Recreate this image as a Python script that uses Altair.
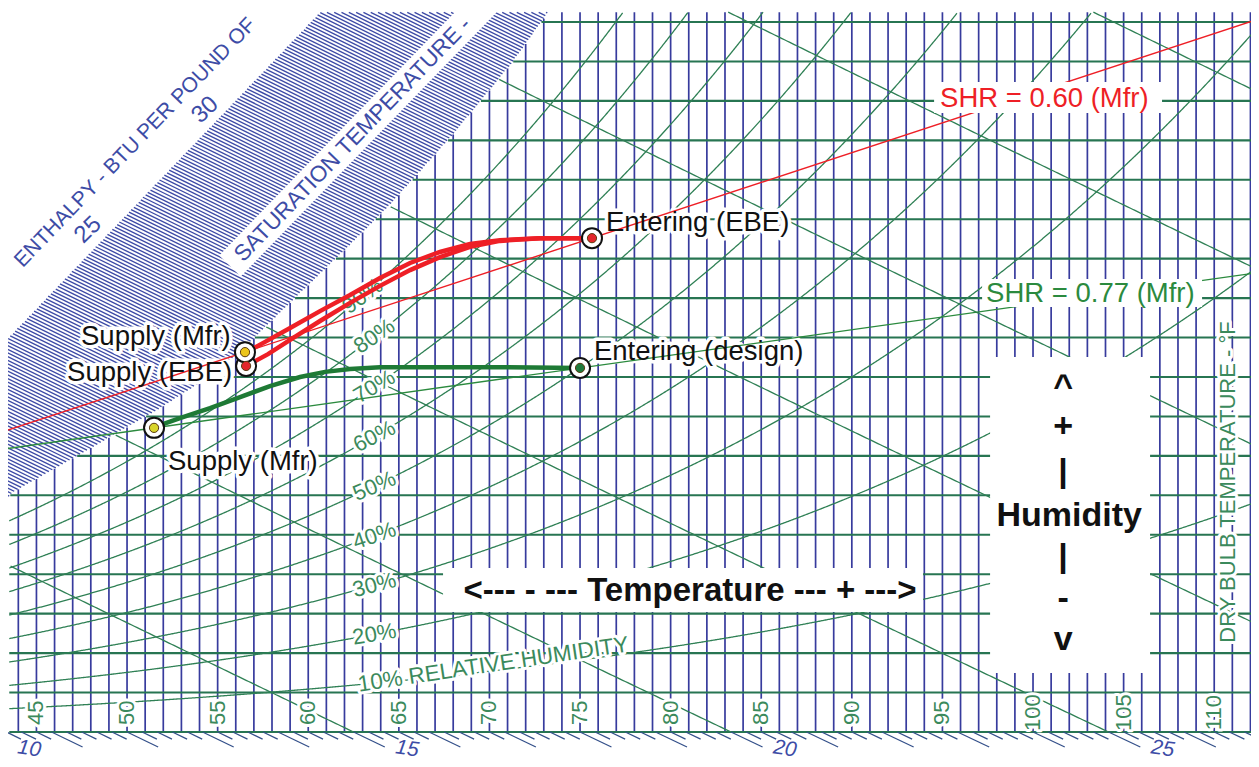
import numpy as np
import pandas as pd
import altair as alt

# ------------------------------------------------------------------
# Values
# T = dry-bulb temperature (°F), W = humidity ratio (lb water / lb dry air)
# ------------------------------------------------------------------
dry_bulb_grid = list(range(44, 113))
dry_bulb_labels = [45, 50, 55, 60, 65, 70, 75, 80, 85, 90, 95, 100, 105, 110]
humidity_grid = [0.000, 0.001, 0.002, 0.003, 0.004, 0.005, 0.006, 0.007, 0.008, 0.009,
                 0.010, 0.011, 0.012, 0.013, 0.014, 0.015, 0.016, 0.017, 0.018]
rh_levels = [10, 20, 30, 40, 50, 60, 70, 80, 90]
enthalpy_major = [15, 20, 25, 30, 35, 40, 45]
enthalpy_scale_labels = [10, 15, 20, 25]

# lower-right edge of the hatched saturation band
sat_T = [42.99, 43.65, 48.51, 51.66, 54.03, 56.24, 59.16, 62.25, 64.51, 67.99, 71.25, 73.23, 73.79]
sat_W = [0.00563, 0.00606, 0.00733, 0.00816, 0.00885, 0.00963, 0.01095, 0.01232, 0.01336,
         0.01514, 0.01696, 0.01823, 0.01856]
# upper-left edge of the hatched band (enthalpy scale)
edge_T = [43.54, 60.65]
edge_W = [0.01004, 0.01825]

# state points
pt_name = ["Entering (EBE)", "Entering (design)", "Supply (EBE)", "Supply (Mfr)", "Supply (Mfr) "]
pt_T = [75.66, 75.00, 56.57, 56.51, 51.49]
pt_W = [0.01252, 0.00923, 0.00928, 0.00963, 0.00771]
pt_fill = ["#e3262b", "#1f7a3c", "#e3262b", "#ecc51a", "#d9d52a"]

# process paths (coil curves)
green_path_T = [51.49, 51.71, 52.92, 54.58, 56.24, 57.89, 59.55, 60.93, 62.31, 63.96, 66.17, 70.58, 75.00]
green_path_W = [0.00771, 0.00776, 0.00796, 0.00821, 0.00849, 0.00877, 0.00900, 0.00913, 0.00920,
                0.00925, 0.00925, 0.00925, 0.00923]
red_path_a_T = [56.51, 56.79, 57.62, 59.00, 60.65, 62.31, 63.96, 65.62, 67.27, 68.93, 70.58, 72.79, 75.66]
red_path_a_W = [0.00963, 0.00968, 0.00989, 0.01024, 0.01067, 0.01108, 0.01151, 0.01189, 0.01217,
                0.01237, 0.01247, 0.01252, 0.01252]
red_path_b_T = [56.57, 56.90, 57.78, 59.00, 60.65, 62.31, 63.96, 65.62, 67.27, 68.93, 70.58, 72.79, 75.66]
red_path_b_W = [0.00928, 0.00936, 0.00958, 0.00994, 0.01042, 0.01088, 0.01131, 0.01171, 0.01204,
                0.01230, 0.01245, 0.01252, 0.01252]

# sensible heat ratio lines
shr_red_T = [42.99, 112.47]
shr_red_W = [0.00759, 0.01808]
shr_green_T = [42.99, 112.47]
shr_green_W = [0.00716, 0.01165]

# ------------------------------------------------------------------
# frame
# ------------------------------------------------------------------
T_MIN, T_MAX = 43.43, 112.03
W_MIN, W_MAX = -0.000685, 0.018355
T_LEFT, W_TOP = 43.5, 0.01825
PX_PER_T = 18.12
PX_PER_W = 39444.0

XS = alt.Scale(domain=[T_MIN, T_MAX], nice=False, zero=False)
YS = alt.Scale(domain=[W_MIN, W_MAX], nice=False, zero=False)
FONT = "Liberation Sans"

BLUE = "#373b9d"
HATCH = "#3d4aa6"
GREEN = "#277552"
GREEN_L = "#2f8055"
GREEN_TXT = "#3b8a5c"
RED = "#ee1f26"
TXT_BLUE = "#3d4ca6"

# ------------------------------------------------------------------
# psychrometric relations (sea level)
# ------------------------------------------------------------------
P_ATM = 14.696


def p_ws(tf):
    t = np.asarray(tf, float) + 459.67
    return np.exp(-1.0440397e4 / t - 1.1294650e1 - 2.7022355e-2 * t + 1.2890360e-5 * t ** 2
                  - 2.4780681e-9 * t ** 3 + 6.5459673 * np.log(t))


def w_at(tf, rh):
    pv = rh * p_ws(tf)
    return 0.622 * pv / (P_ATM - pv)


def t_at_h(h, w):
    return (h - 1061.0 * np.asarray(w, float)) / (0.24 + 0.444 * np.asarray(w, float))


def t_sat(w):
    return np.interp(w, sat_W, sat_T)


def w_sat(t):
    return np.interp(t, sat_T, sat_W)


def w_edge(t):
    return edge_W[0] + (np.asarray(t) - edge_T[0]) * (edge_W[1] - edge_W[0]) / (edge_T[1] - edge_T[0])


X = alt.X("T:Q", scale=XS, axis=None)
Y = alt.Y("W:Q", scale=YS, axis=None)


def rules(df, color, width, cap="butt"):
    return alt.Chart(df).mark_rule(color=color, strokeWidth=width, clip=True, strokeCap=cap).encode(
        x=X, x2="T2:Q", y=Y, y2="W2:Q")


def boxes(df, color="white"):
    return alt.Chart(df).mark_rect(color=color).encode(x=X, x2="T2:Q", y=Y, y2="W2:Q")


def lines(df, color, width):
    return alt.Chart(df).mark_line(color=color, strokeWidth=width, clip=True).encode(
        x=X, y=Y, detail="id:N", order="o:Q")


def texts(df, size, color, halo=0, weight="normal", style="normal", align="left",
          baseline="alphabetic", angle=None, angle_field=False):
    enc = dict(x=X, y=Y, text="label:N")
    props = dict(fontSize=size, font=FONT, fontWeight=weight, fontStyle=style,
                 align=align, baseline=baseline)
    if angle_field:
        enc["angle"] = alt.Angle("ang:Q", scale=None)
    elif angle is not None:
        props["angle"] = angle
    out = []
    if halo:
        out.append(alt.Chart(df).mark_text(color="white", stroke="white", strokeWidth=halo,
                                           strokeJoin="round", **props).encode(**enc))
    out.append(alt.Chart(df).mark_text(color=color, **props).encode(**enc))
    return out


# ------------------------------------------------------------------
# grid construction
# ------------------------------------------------------------------
# hatched band: fine enthalpy lines between enthalpy-scale edge and saturation edge
hatch = []
ws = np.linspace(0.003, 0.0195, 2000)
for k in range(100, 520):
    h = k / 10.0
    ts = t_at_h(h, ws)
    inside = (ws < w_edge(ts)) & (ts < t_sat(ws)) & (ws <= W_TOP)
    if inside.any():
        idx = np.where(inside)[0]
        hatch.append({"T": ts[idx[0]], "W": ws[idx[0]], "T2": ts[idx[-1]], "W2": ws[idx[-1]]})
hatch_df = pd.DataFrame(hatch)

vert_df = pd.DataFrame([{"T": t, "T2": t, "W": 0.0, "W2": float(min(W_TOP, w_sat(t)))}
                        for t in dry_bulb_grid])
horz_df = pd.DataFrame([{"T": float(max(T_LEFT, t_sat(w))), "T2": T_MAX + 1, "W": w, "W2": w}
                        for w in humidity_grid])

rh_rows = []
for rh in rh_levels:
    ts = np.arange(T_LEFT, T_MAX + 0.5, 0.05)
    wv = w_at(ts, rh / 100.0)
    keep = wv <= W_TOP
    for i, (t, w) in enumerate(zip(ts[keep], wv[keep])):
        rh_rows.append({"id": rh, "o": i, "T": t, "W": w})
rh_df = pd.DataFrame(rh_rows)

h_rows = []
for h in enthalpy_major:
    wv = np.linspace(0.0, W_TOP, 600)
    ts = t_at_h(h, wv)
    keep = (ts >= t_sat(wv)) & (ts >= T_LEFT)
    for i, (t, w) in enumerate(zip(ts[keep], wv[keep])):
        h_rows.append({"id": h, "o": i, "T": t, "W": w})
h_df = pd.DataFrame(h_rows)

tick_rows = []
for k in range(46, 140):
    h = k / 5.0
    w_end = -0.00038 if k % 5 == 0 else -0.00018
    tick_rows.append({"T": float(t_at_h(h, 0.0)), "W": 0.0, "T2": float(t_at_h(h, w_end)), "W2": w_end})
tick_df = pd.DataFrame(tick_rows)

W_SCALE_LBL = -0.00043
scale_lbl_df = pd.DataFrame({"label": [str(v) for v in enthalpy_scale_labels],
                             "T": [float(t_at_h(v, W_SCALE_LBL)) + 1.0 for v in enthalpy_scale_labels],
                             "W": [W_SCALE_LBL] * len(enthalpy_scale_labels)})

# RH labels placed on their own curves
rh_lbl = []
for rh in rh_levels:
    t0 = 62.75 if rh == 10 else (63.0 if rh == 90 else 63.65)
    w0 = float(w_at(t0, rh / 100.0))
    slope = float((w_at(t0 + 0.5, rh / 100.0) - w_at(t0 - 0.5, rh / 100.0))) * PX_PER_W / PX_PER_T
    ang = 351.5 if rh == 10 else 360 - np.degrees(np.arctan(slope)) * 0.9
    rh_lbl.append({"label": f"{rh}% RELATIVE HUMIDITY" if rh == 10 else f"{rh}%",
                   "T": t0, "W": w0, "ang": ang, "first": rh == 10})
rh_lbl_df = pd.DataFrame(rh_lbl)

db_lbl_df = pd.DataFrame({"label": [str(v) for v in dry_bulb_labels],
                          "T": dry_bulb_labels, "W": [0.00049] * len(dry_bulb_labels)})

# white annotation boxes
box_df = pd.DataFrame({"T": [97.63, 67.44], "T2": [106.46, 93.93],
                       "W": [0.001496, 0.003042], "W2": [0.009507, 0.004158]})
shr_box_df = pd.DataFrame({"T": [94.54, 97.19], "T2": [107.12, 109.33],
                           "W": [0.015693, 0.010775], "W2": [0.016479, 0.011485]})
strip_df = pd.DataFrame({"T": [55.68], "W": [0.011814], "T2": [70.70], "W2": [0.018938]})

path_rows = []
for pid, (tt, ww) in enumerate([(red_path_a_T, red_path_a_W), (red_path_b_T, red_path_b_W)]):
    for i, (t, w) in enumerate(zip(tt, ww)):
        path_rows.append({"id": pid, "o": i, "T": t, "W": w})
red_paths_df = pd.DataFrame(path_rows)
green_path_df = pd.DataFrame({"id": 0, "o": range(len(green_path_T)), "T": green_path_T, "W": green_path_W})

shr_red_df = pd.DataFrame({"id": 0, "o": [0, 1], "T": shr_red_T, "W": shr_red_W})
shr_green_df = pd.DataFrame({"id": 0, "o": [0, 1], "T": shr_green_T, "W": shr_green_W})

pts_df = pd.DataFrame({"name": pt_name, "T": pt_T, "W": pt_W, "fill": pt_fill})

point_lbl_df = pd.DataFrame({
    "label": ["Entering (EBE)", "Entering (design)", "Supply (Mfr)", "Supply (EBE)", "Supply (Mfr)"],
    "T": [76.43, 75.77, 47.46, 46.69, 52.26],
    "W": [0.012904, 0.009634, 0.010021, 0.009102, 0.006845]})
shr_red_lbl = pd.DataFrame({"label": ["SHR = 0.60 (Mfr)"], "T": [94.87], "W": [0.015845]})
shr_green_lbl = pd.DataFrame({"label": ["SHR = 0.77 (Mfr)"], "T": [97.41], "W": [0.010902]})

hum_df = pd.DataFrame({"label": ["^", "+", "|", "Humidity", "|", "-", "v"],
                       "T": [101.66, 101.66, 101.66, 102.0, 101.66, 101.66, 101.66],
                       "W": [0.008493, 0.007479, 0.006338, 0.005223, 0.004183, 0.003118, 0.002079]})
temp_df = pd.DataFrame({"label": ["<--- - --- Temperature --- + --->"], "T": [81.07], "W": [0.003321]})
dbt_title_df = pd.DataFrame({"label": ["DRY BULB TEMPERATURE - °F"], "T": [110.76], "W": [0.006338]})
enth_title_df = pd.DataFrame({"label": ["ENTHALPY - BTU PER POUND OF"], "T": [44.00], "W": [0.011865]})
sat_title_df = pd.DataFrame({"label": ["SATURATION TEMPERATURE -"], "T": [56.13], "W": [0.012017]})
enth_num_df = pd.DataFrame({"label": ["25", "30"], "T": [47.85, 54.31], "W": [0.012727, 0.015769]})

# ------------------------------------------------------------------
# layers
# ------------------------------------------------------------------
layers = []
layers.append(rules(hatch_df, HATCH, 1.35))
layers.append(rules(strip_df, "white", 30))
layers += texts(sat_title_df, 22.5, TXT_BLUE, angle=314, baseline="middle")
layers += texts(enth_title_df, 21, TXT_BLUE, angle=314, baseline="middle")
layers += texts(enth_num_df, 24, TXT_BLUE, angle=316, align="center", baseline="middle")
layers.append(rules(vert_df, BLUE, 1.7))
layers.append(rules(horz_df, GREEN, 2.1))
layers.append(lines(rh_df, GREEN_L, 1.3))
layers.append(lines(h_df, GREEN_L, 1.3))
layers.append(rules(tick_df, "#34508a", 1.3))
layers += texts(scale_lbl_df, 21, TXT_BLUE, style="italic", align="center", baseline="middle", angle=8)
layers.append(boxes(box_df))
layers += texts(rh_lbl_df[~rh_lbl_df["first"]], 22, GREEN_TXT, halo=6, align="center",
                baseline="middle", angle_field=True)
layers += texts(rh_lbl_df[rh_lbl_df["first"]], 22.5, GREEN_TXT, halo=6, align="left",
                baseline="middle", angle_field=True)
layers += texts(db_lbl_df, 22, GREEN_TXT, halo=6, align="center", baseline="middle", angle=270)
layers += texts(dbt_title_df, 22, GREEN_TXT, halo=6, align="center", baseline="middle", angle=270)
# white backing of point labels (below the SHR lines)
layers.append(alt.Chart(point_lbl_df).mark_text(color="white", stroke="white", strokeWidth=7,
                                                strokeJoin="round", fontSize=27.5, font=FONT,
                                                align="left").encode(x=X, y=Y, text="label:N"))
layers.append(lines(shr_red_df, RED, 1.4))
layers.append(lines(shr_green_df, "#2b8a3e", 1.4))
layers.append(boxes(shr_box_df))
layers += texts(shr_red_lbl, 27.5, RED)
layers += texts(shr_green_lbl, 27.5, "#2b8a3e")
layers.append(lines(green_path_df, "#1e7a35", 4.5))
layers.append(lines(red_paths_df, RED, 4.5))
layers.append(alt.Chart(point_lbl_df).mark_text(color="#111111", fontSize=27.5, font=FONT,
                                                align="left").encode(x=X, y=Y, text="label:N"))
layers.append(alt.Chart(pts_df).mark_point(shape="circle", filled=True, fill="white", stroke="#111111",
                                           strokeWidth=2, size=400, opacity=1).encode(x=X, y=Y))
layers.append(alt.Chart(pts_df).mark_point(shape="circle", filled=True, stroke="#5a3a10",
                                           strokeWidth=1, size=85, opacity=1).encode(
    x=X, y=Y, fill=alt.Fill("fill:N", scale=None)))
layers += texts(hum_df, 34, "#111111", weight="bold", align="center")
layers += texts(temp_df, 33, "#111111", weight="bold", align="center")

chart = alt.layer(*layers).properties(
    width=1243, height=751,
    autosize=alt.AutoSizeParams(type="none"),
    padding=0,
    background="white",
).configure_view(stroke=None)

chart.save("out.html", embed_options={"renderer": "svg", "actions": False})
